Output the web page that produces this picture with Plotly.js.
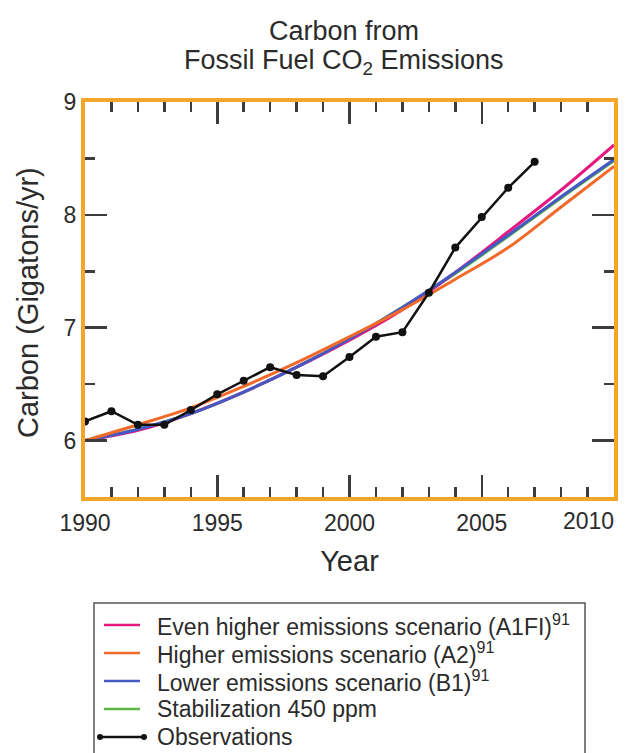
<!DOCTYPE html>
<html>
<head>
<meta charset="utf-8">
<script src="https://cdn.plot.ly/plotly-3.0.1.min.js"></script>
<style>
  html, body { margin: 0; padding: 0; background: #ffffff; }
  #chart { width: 632px; height: 753px; }
</style>
</head>
<body>
<div id="chart"></div>
<script>
// ---- Data ----
const obsYears = [1990, 1991, 1992, 1993, 1994, 1995, 1996, 1997, 1998, 1999,
                  2000, 2001, 2002, 2003, 2004, 2005, 2006, 2007];
const observations = [6.17, 6.26, 6.14, 6.14, 6.27, 6.41, 6.53, 6.65, 6.58, 6.57,
                      6.74, 6.92, 6.96, 7.31, 7.71, 7.98, 8.24, 8.47];

const scenarioYears = [1990, 1992, 1994, 1996, 1998, 2000, 2002, 2004, 2006, 2008, 2010];
const a1fi = [6.00, 6.09, 6.24, 6.43, 6.65, 6.89, 7.16, 7.49, 7.85, 8.22, 8.62];
const a2   = [6.00, 6.14, 6.29, 6.48, 6.69, 6.92, 7.16, 7.43, 7.71, 8.07, 8.43];
const b1   = [6.00, 6.10, 6.24, 6.43, 6.65, 6.90, 7.18, 7.49, 7.82, 8.16, 8.49];
const stab450 = [6.00, 6.10, 6.24, 6.43, 6.65, 6.90, 7.18, 7.48, 7.81, 8.15, 8.48];

const xTickVals = [1990, 1995, 2000, 2005, 2010];
const xTickText = ['1990', '1995', '2000', '2005', ''];
const lastXLabel = '2010';
const yTickVals = [6, 7, 8, 9];
const yTickText = ['6', '7', '8', '9'];

const titleLine1 = 'Carbon from';
const titleLine2 = 'Fossil Fuel CO<sub>2</sub> Emissions';
const xTitle = 'Year';
const yTitle = 'Carbon (Gigatons/yr)';

// legend entries, in the reference's order
const legendNames = [
  'Even higher emissions scenario (A1FI)<sup>91</sup>',
  'Higher emissions scenario (A2)<sup>91</sup>',
  'Lower emissions scenario (B1)<sup>91</sup>',
  'Stabilization 450 ppm',
  'Observations'
];

// ---- Styles ----
const SANS = '"Liberation Sans", Arial, Helvetica, sans-serif';
const FRAME = '#F6A52B';
const TICK = '#3d3d3d';
const TEXT = '#2b2b2b';
const COLORS = { a1fi: '#e4187f', a2: '#f26a2a', b1: '#4658c4', stab: '#5cb946', obs: '#111111' };
const legendColors = [COLORS.a1fi, COLORS.a2, COLORS.b1, COLORS.stab, COLORS.obs];

const traces = [
  { x: scenarioYears, y: stab450, name: legendNames[3], mode: 'lines',
    line: { color: COLORS.stab, width: 3, shape: 'spline' } },
  { x: scenarioYears, y: a1fi, name: legendNames[0], mode: 'lines',
    line: { color: COLORS.a1fi, width: 3, shape: 'spline' } },
  { x: scenarioYears, y: b1, name: legendNames[2], mode: 'lines',
    line: { color: COLORS.b1, width: 3, shape: 'spline' } },
  { x: scenarioYears, y: a2, name: legendNames[1], mode: 'lines',
    line: { color: COLORS.a2, width: 3, shape: 'spline' } },
  { x: obsYears, y: observations, name: legendNames[4], mode: 'lines+markers',
    line: { color: COLORS.obs, width: 2.5 },
    marker: { color: COLORS.obs, size: 8 } }
];

// plot-area geometry (pixels) used to place the hand-built legend and labels
const PL = 85, PR = 614, PT = 102, PB = 497;
const px = v => (v - PL) / (PR - PL);
const py = v => (PB - v) / (PB - PT);

const shapes = [];
const annotations = [];

// legend box
shapes.push({ type: 'rect', xref: 'paper', yref: 'paper',
  x0: px(94), x1: px(585), y0: py(603), y1: py(770),
  line: { color: '#555555', width: 1.5 }, fillcolor: '#ffffff', layer: 'above' });

const rowY = [625, 653, 681, 709, 737];
legendNames.forEach((name, i) => {
  const isObs = i === legendNames.length - 1;
  shapes.push({ type: 'line', xref: 'paper', yref: 'paper',
    x0: px(isObs ? 100 : 104), x1: px(isObs ? 144 : 140), y0: py(rowY[i]), y1: py(rowY[i]),
    line: { color: legendColors[i], width: 2.5 }, layer: 'above' });
  if (isObs) {
    [100, 144].forEach(cx => shapes.push({ type: 'circle', xref: 'paper', yref: 'paper',
      x0: px(cx - 3), x1: px(cx + 3), y0: py(rowY[i] + 3), y1: py(rowY[i] - 3),
      fillcolor: legendColors[i], line: { color: legendColors[i], width: 0 }, layer: 'above' }));
  }
  annotations.push({ xref: 'paper', yref: 'paper', x: px(155), y: py(rowY[i]),
    xanchor: 'left', yanchor: 'middle', showarrow: false, text: name,
    font: { family: SANS, size: 23, color: TEXT } });
});

// second title line, y-axis title and the right-aligned last x label
annotations.push({ xref: 'paper', yref: 'paper', x: px(344), y: py(62), xanchor: 'center', yanchor: 'middle',
  showarrow: false, text: titleLine2, font: { family: SANS, size: 27, color: TEXT } });
annotations.push({ xref: 'paper', yref: 'paper', x: px(28), y: py(303), xanchor: 'center', yanchor: 'middle',
  showarrow: false, textangle: -90, text: yTitle, font: { family: SANS, size: 29, color: TEXT } });
annotations.push({ x: 2010, y: 0, xref: 'x', yref: 'paper', text: lastXLabel, showarrow: false,
  xanchor: 'right', yanchor: 'top', yshift: -9, xshift: 2,
  font: { family: SANS, size: 23, color: TEXT } });

const axisCommon = {
  showline: true, linecolor: FRAME, linewidth: 4, mirror: 'ticks',
  ticks: 'inside', tickcolor: TICK, tickwidth: 2.5, ticklen: 22,
  showgrid: false, zeroline: false, fixedrange: true,
  tickfont: { family: SANS, size: 23, color: TEXT }
};

const layout = {
  width: 632, height: 753,
  paper_bgcolor: '#ffffff', plot_bgcolor: '#ffffff',
  margin: { l: PL, r: 632 - PR, t: PT, b: 753 - PB, autoexpand: false },
  showlegend: false,
  title: {
    text: titleLine1,
    font: { family: SANS, size: 27, color: TEXT },
    x: px(344), xanchor: 'center', xref: 'paper',
    y: 1 - 31 / 753, yanchor: 'middle', yref: 'container'
  },
  xaxis: Object.assign({}, axisCommon, {
    range: [1990, 2010],
    tickmode: 'array', tickvals: xTickVals, ticktext: xTickText,
    ticklabelstandoff: 2,
    minor: { dtick: 1, tick0: 1990, ticks: 'inside', ticklen: 10, tickwidth: 2.5, tickcolor: TICK, showgrid: false },
    title: { text: xTitle, font: { family: SANS, size: 29, color: TEXT }, standoff: 17 }
  }),
  yaxis: Object.assign({}, axisCommon, {
    range: [5.5, 9],
    tickmode: 'array', tickvals: yTickVals, ticktext: yTickText,
    minor: { dtick: 0.5, tick0: 5.5, ticks: 'inside', ticklen: 10, tickwidth: 2.5, tickcolor: TICK, showgrid: false }
  }),
  shapes: shapes,
  annotations: annotations
};

Plotly.newPlot('chart', traces, layout, { displayModeBar: false, staticPlot: true });
</script>
</body>
</html>
